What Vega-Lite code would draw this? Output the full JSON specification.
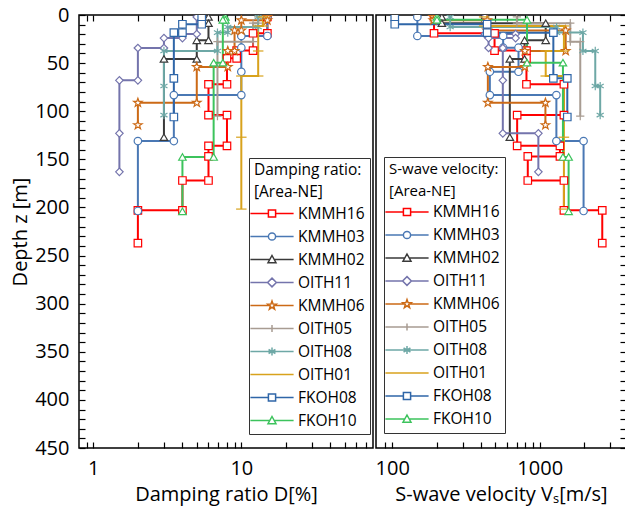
{
  "$schema": "https://vega.github.io/schema/vega-lite/v6.json",
  "background": "white",
  "padding": {"left": 9, "top": 4, "right": 2, "bottom": 2},
  "datasets": {
    "prof": [
      {"p":"D","s":"KMMH16","i":0,"v":15,"z":2},{"p":"D","s":"KMMH16","i":1,"v":15,"z":19},{"p":"D","s":"KMMH16","i":2,"v":12,"z":19},{"p":"D","s":"KMMH16","i":3,"v":12,"z":37},{"p":"D","s":"KMMH16","i":4,"v":9.3,"z":37},{"p":"D","s":"KMMH16","i":5,"v":9.3,"z":45},{"p":"D","s":"KMMH16","i":6,"v":8,"z":45},{"p":"D","s":"KMMH16","i":7,"v":8,"z":72},{"p":"D","s":"KMMH16","i":8,"v":6,"z":72},{"p":"D","s":"KMMH16","i":9,"v":6,"z":104},{"p":"D","s":"KMMH16","i":10,"v":8,"z":104},{"p":"D","s":"KMMH16","i":11,"v":8,"z":136},{"p":"D","s":"KMMH16","i":12,"v":6,"z":136},{"p":"D","s":"KMMH16","i":13,"v":6,"z":147},{"p":"D","s":"KMMH16","i":14,"v":6,"z":172},{"p":"D","s":"KMMH16","i":15,"v":4,"z":172},{"p":"D","s":"KMMH16","i":16,"v":4,"z":203},{"p":"D","s":"KMMH16","i":17,"v":2,"z":203},{"p":"D","s":"KMMH16","i":18,"v":2,"z":237},
      {"p":"D","s":"KMMH03","i":0,"v":15,"z":2},{"p":"D","s":"KMMH03","i":1,"v":15,"z":21.8},{"p":"D","s":"KMMH03","i":2,"v":10,"z":21.8},{"p":"D","s":"KMMH03","i":3,"v":10,"z":34},{"p":"D","s":"KMMH03","i":4,"v":10,"z":59},{"p":"D","s":"KMMH03","i":5,"v":10,"z":83.2},{"p":"D","s":"KMMH03","i":6,"v":3.5,"z":83.2},{"p":"D","s":"KMMH03","i":7,"v":3.5,"z":131},{"p":"D","s":"KMMH03","i":8,"v":2,"z":131},{"p":"D","s":"KMMH03","i":9,"v":2,"z":203.7},
      {"p":"D","s":"KMMH02","i":0,"v":6,"z":2},{"p":"D","s":"KMMH02","i":1,"v":6,"z":8.5},{"p":"D","s":"KMMH02","i":2,"v":6,"z":26.3},{"p":"D","s":"KMMH02","i":3,"v":5,"z":26.3},{"p":"D","s":"KMMH02","i":4,"v":5,"z":45.7},{"p":"D","s":"KMMH02","i":5,"v":3,"z":45.7},{"p":"D","s":"KMMH02","i":6,"v":3,"z":127},
      {"p":"D","s":"OITH11","i":0,"v":5,"z":2},{"p":"D","s":"OITH11","i":1,"v":5,"z":19.8},{"p":"D","s":"OITH11","i":2,"v":4,"z":19.8},{"p":"D","s":"OITH11","i":3,"v":4,"z":24},{"p":"D","s":"OITH11","i":4,"v":3,"z":24},{"p":"D","s":"OITH11","i":5,"v":3,"z":34.3},{"p":"D","s":"OITH11","i":6,"v":2,"z":34.3},{"p":"D","s":"OITH11","i":7,"v":2,"z":67.9},{"p":"D","s":"OITH11","i":8,"v":1.5,"z":67.9},{"p":"D","s":"OITH11","i":9,"v":1.5,"z":123},{"p":"D","s":"OITH11","i":10,"v":1.5,"z":163},
      {"p":"D","s":"KMMH06","i":0,"v":15,"z":2},{"p":"D","s":"KMMH06","i":1,"v":15,"z":5.5},{"p":"D","s":"KMMH06","i":2,"v":10,"z":5.5},{"p":"D","s":"KMMH06","i":3,"v":10,"z":16},{"p":"D","s":"KMMH06","i":4,"v":9,"z":16},{"p":"D","s":"KMMH06","i":5,"v":9,"z":37.4},{"p":"D","s":"KMMH06","i":6,"v":8.1,"z":37.4},{"p":"D","s":"KMMH06","i":7,"v":8.1,"z":54},{"p":"D","s":"KMMH06","i":8,"v":5,"z":54},{"p":"D","s":"KMMH06","i":9,"v":5,"z":91.2},{"p":"D","s":"KMMH06","i":10,"v":2,"z":91.2},{"p":"D","s":"KMMH06","i":11,"v":2,"z":114.4},
      {"p":"D","s":"OITH05","i":0,"v":13,"z":2},{"p":"D","s":"OITH05","i":1,"v":13,"z":8.5},{"p":"D","s":"OITH05","i":2,"v":12,"z":8.5},{"p":"D","s":"OITH05","i":3,"v":12,"z":27.7},{"p":"D","s":"OITH05","i":4,"v":6.9,"z":27.7},{"p":"D","s":"OITH05","i":5,"v":6.9,"z":105},
      {"p":"D","s":"OITH08","i":0,"v":13,"z":2},{"p":"D","s":"OITH08","i":1,"v":13,"z":12.5},{"p":"D","s":"OITH08","i":2,"v":8.1,"z":12.5},{"p":"D","s":"OITH08","i":3,"v":8.1,"z":18.3},{"p":"D","s":"OITH08","i":4,"v":6.9,"z":18.3},{"p":"D","s":"OITH08","i":5,"v":6.9,"z":37.4},{"p":"D","s":"OITH08","i":6,"v":3,"z":37.4},{"p":"D","s":"OITH08","i":7,"v":3,"z":73.8},{"p":"D","s":"OITH08","i":8,"v":3,"z":104},
      {"p":"D","s":"OITH01","i":0,"v":14,"z":2},{"p":"D","s":"OITH01","i":1,"v":14,"z":11.4},{"p":"D","s":"OITH01","i":2,"v":13,"z":11.4},{"p":"D","s":"OITH01","i":3,"v":13,"z":37.4},{"p":"D","s":"OITH01","i":4,"v":13,"z":63.4},{"p":"D","s":"OITH01","i":5,"v":10,"z":63.4},{"p":"D","s":"OITH01","i":6,"v":10,"z":127},{"p":"D","s":"OITH01","i":7,"v":10,"z":201.7},
      {"p":"D","s":"FKOH08","i":0,"v":5.4,"z":2},{"p":"D","s":"FKOH08","i":1,"v":5.4,"z":9.6},{"p":"D","s":"FKOH08","i":2,"v":4,"z":9.6},{"p":"D","s":"FKOH08","i":3,"v":4,"z":18.4},{"p":"D","s":"FKOH08","i":4,"v":3.5,"z":18.4},{"p":"D","s":"FKOH08","i":5,"v":3.5,"z":65.8},{"p":"D","s":"FKOH08","i":6,"v":3.5,"z":106},
      {"p":"D","s":"FKOH10","i":0,"v":7.8,"z":2},{"p":"D","s":"FKOH10","i":1,"v":7.8,"z":5},{"p":"D","s":"FKOH10","i":2,"v":7.5,"z":5},{"p":"D","s":"FKOH10","i":3,"v":7.5,"z":49.6},{"p":"D","s":"FKOH10","i":4,"v":6.5,"z":49.6},{"p":"D","s":"FKOH10","i":5,"v":6.5,"z":147.6},{"p":"D","s":"FKOH10","i":6,"v":4,"z":147.6},{"p":"D","s":"FKOH10","i":7,"v":4,"z":204},
      {"p":"V","s":"KMMH16","i":0,"v":192,"z":2},{"p":"V","s":"KMMH16","i":1,"v":192,"z":19},{"p":"V","s":"KMMH16","i":2,"v":494,"z":19},{"p":"V","s":"KMMH16","i":3,"v":494,"z":37},{"p":"V","s":"KMMH16","i":4,"v":813,"z":37},{"p":"V","s":"KMMH16","i":5,"v":813,"z":45},{"p":"V","s":"KMMH16","i":6,"v":813,"z":72},{"p":"V","s":"KMMH16","i":7,"v":1459,"z":72},{"p":"V","s":"KMMH16","i":8,"v":1459,"z":104},{"p":"V","s":"KMMH16","i":9,"v":703,"z":104},{"p":"V","s":"KMMH16","i":10,"v":703,"z":136},{"p":"V","s":"KMMH16","i":11,"v":1371,"z":136},{"p":"V","s":"KMMH16","i":12,"v":1371,"z":147},{"p":"V","s":"KMMH16","i":13,"v":830,"z":147},{"p":"V","s":"KMMH16","i":14,"v":830,"z":172},{"p":"V","s":"KMMH16","i":15,"v":1459,"z":172},{"p":"V","s":"KMMH16","i":16,"v":1459,"z":203},{"p":"V","s":"KMMH16","i":17,"v":2655,"z":203},{"p":"V","s":"KMMH16","i":18,"v":2655,"z":237},
      {"p":"V","s":"KMMH03","i":0,"v":148,"z":2},{"p":"V","s":"KMMH03","i":1,"v":148,"z":21.8},{"p":"V","s":"KMMH03","i":2,"v":565,"z":21.8},{"p":"V","s":"KMMH03","i":3,"v":565,"z":34},{"p":"V","s":"KMMH03","i":4,"v":718,"z":34},{"p":"V","s":"KMMH03","i":5,"v":718,"z":59},{"p":"V","s":"KMMH03","i":6,"v":459,"z":59},{"p":"V","s":"KMMH03","i":7,"v":459,"z":83.2},{"p":"V","s":"KMMH03","i":8,"v":1297,"z":83.2},{"p":"V","s":"KMMH03","i":9,"v":1297,"z":131},{"p":"V","s":"KMMH03","i":10,"v":1983,"z":131},{"p":"V","s":"KMMH03","i":11,"v":1983,"z":203.7},
      {"p":"V","s":"KMMH02","i":0,"v":217,"z":2},{"p":"V","s":"KMMH02","i":1,"v":217,"z":8.5},{"p":"V","s":"KMMH02","i":2,"v":1098,"z":8.5},{"p":"V","s":"KMMH02","i":3,"v":1098,"z":26.3},{"p":"V","s":"KMMH02","i":4,"v":789,"z":26.3},{"p":"V","s":"KMMH02","i":5,"v":789,"z":45.7},{"p":"V","s":"KMMH02","i":6,"v":627,"z":45.7},{"p":"V","s":"KMMH02","i":7,"v":627,"z":127},
      {"p":"V","s":"OITH11","i":0,"v":425,"z":2},{"p":"V","s":"OITH11","i":1,"v":425,"z":19.8},{"p":"V","s":"OITH11","i":2,"v":686,"z":19.8},{"p":"V","s":"OITH11","i":3,"v":686,"z":24},{"p":"V","s":"OITH11","i":4,"v":450,"z":24},{"p":"V","s":"OITH11","i":5,"v":450,"z":34.3},{"p":"V","s":"OITH11","i":6,"v":562,"z":34.3},{"p":"V","s":"OITH11","i":7,"v":562,"z":67.9},{"p":"V","s":"OITH11","i":8,"v":562,"z":123},{"p":"V","s":"OITH11","i":9,"v":979,"z":123},{"p":"V","s":"OITH11","i":10,"v":979,"z":163},
      {"p":"V","s":"KMMH06","i":0,"v":190,"z":2},{"p":"V","s":"KMMH06","i":1,"v":190,"z":5.5},{"p":"V","s":"KMMH06","i":2,"v":440,"z":5.5},{"p":"V","s":"KMMH06","i":3,"v":440,"z":16},{"p":"V","s":"KMMH06","i":4,"v":1500,"z":16},{"p":"V","s":"KMMH06","i":5,"v":1500,"z":37.4},{"p":"V","s":"KMMH06","i":6,"v":793,"z":37.4},{"p":"V","s":"KMMH06","i":7,"v":793,"z":54},{"p":"V","s":"KMMH06","i":8,"v":445,"z":54},{"p":"V","s":"KMMH06","i":9,"v":445,"z":91.2},{"p":"V","s":"KMMH06","i":10,"v":1093,"z":91.2},{"p":"V","s":"KMMH06","i":11,"v":1093,"z":114.4},
      {"p":"V","s":"OITH05","i":0,"v":700,"z":2},{"p":"V","s":"OITH05","i":1,"v":700,"z":8.5},{"p":"V","s":"OITH05","i":2,"v":1612,"z":8.5},{"p":"V","s":"OITH05","i":3,"v":1612,"z":27.7},{"p":"V","s":"OITH05","i":4,"v":1883,"z":27.7},{"p":"V","s":"OITH05","i":5,"v":1883,"z":105},
      {"p":"V","s":"OITH08","i":0,"v":247,"z":2},{"p":"V","s":"OITH08","i":1,"v":247,"z":12.5},{"p":"V","s":"OITH08","i":2,"v":1302,"z":12.5},{"p":"V","s":"OITH08","i":3,"v":1302,"z":18.3},{"p":"V","s":"OITH08","i":4,"v":1963,"z":18.3},{"p":"V","s":"OITH08","i":5,"v":1963,"z":37.4},{"p":"V","s":"OITH08","i":6,"v":2380,"z":37.4},{"p":"V","s":"OITH08","i":7,"v":2380,"z":73.8},{"p":"V","s":"OITH08","i":8,"v":2570,"z":73.8},{"p":"V","s":"OITH08","i":9,"v":2570,"z":104},
      {"p":"V","s":"OITH01","i":0,"v":420,"z":2},{"p":"V","s":"OITH01","i":1,"v":420,"z":11.4},{"p":"V","s":"OITH01","i":2,"v":1459,"z":11.4},{"p":"V","s":"OITH01","i":3,"v":1459,"z":37.4},{"p":"V","s":"OITH01","i":4,"v":1098,"z":37.4},{"p":"V","s":"OITH01","i":5,"v":1098,"z":63.4},{"p":"V","s":"OITH01","i":6,"v":1459,"z":63.4},{"p":"V","s":"OITH01","i":7,"v":1459,"z":127},{"p":"V","s":"OITH01","i":8,"v":1459,"z":201.7},
      {"p":"V","s":"FKOH08","i":0,"v":104,"z":2},{"p":"V","s":"FKOH08","i":1,"v":104,"z":9.6},{"p":"V","s":"FKOH08","i":2,"v":440,"z":9.6},{"p":"V","s":"FKOH08","i":3,"v":440,"z":18.4},{"p":"V","s":"FKOH08","i":4,"v":1237,"z":18.4},{"p":"V","s":"FKOH08","i":5,"v":1237,"z":65.8},{"p":"V","s":"FKOH08","i":6,"v":1538,"z":65.8},{"p":"V","s":"FKOH08","i":7,"v":1538,"z":106},
      {"p":"V","s":"FKOH10","i":0,"v":201,"z":2},{"p":"V","s":"FKOH10","i":1,"v":201,"z":5},{"p":"V","s":"FKOH10","i":2,"v":820,"z":5},{"p":"V","s":"FKOH10","i":3,"v":820,"z":49.6},{"p":"V","s":"FKOH10","i":4,"v":1437,"z":49.6},{"p":"V","s":"FKOH10","i":5,"v":1437,"z":147.6},{"p":"V","s":"FKOH10","i":6,"v":1570,"z":147.6},{"p":"V","s":"FKOH10","i":7,"v":1570,"z":204}
    ]
  },
  "data": {"name": "prof"},
  "spacing": 0,
  "hconcat": [
    {
      "width": 294,
      "height": 433,
      "transform": [{"filter": "datum.p == 'D'"}],
      "layer": [
        {
          "mark": {"type": "line", "strokeWidth": 2, "clip": true},
          "encoding": {
            "x": {"field": "v", "type": "quantitative", "scale": {"type": "log", "domain": [0.8, 77.6], "nice": false},
              "axis": {"orient": "bottom", "values": [0.9,1,2,3,4,5,6,7,8,9,10,20,30,40,50,60,70], "tickSize": -6, "labelPadding": 16, "labelExpr": "datum.value == 1 ? '1' : datum.value == 10 ? '10' : ''", "title": "Damping ratio D[%]", "titlePadding": 6}},
            "y": {"field": "z", "type": "quantitative", "scale": {"domain": [0, 450], "reverse": true, "nice": false, "zero": false},
              "axis": {"orient": "left", "values": [0,10,20,30,40,50,60,70,80,90,100,110,120,130,140,150,160,170,180,190,200,210,220,230,240,250,260,270,280,290,300,310,320,330,340,350,360,370,380,390,400,410,420,430,440,450], "tickSize": -6, "labelPadding": 16, "labelExpr": "datum.value % 50 == 0 ? datum.label : ''", "title": "Depth  z [m]", "titlePadding": 4}},
            "order": {"field": "i", "type": "quantitative"},
            "detail": {"field": "s", "type": "nominal"},
            "stroke": {"field": "s", "type": "nominal", "legend": null,
              "scale": {"domain": ["KMMH16","KMMH03","KMMH02","OITH11","KMMH06","OITH05","OITH08","OITH01","FKOH08","FKOH10"], "range": ["#ff0000","#4a78b4","#3a3a3a","#7474ac","#cc6a16","#a89c92","#6ea8a6","#d8a21c","#2f66a8","#3cc35c"]}}
          }
        },
        {
          "mark": {"type": "point", "filled": true, "fill": "white", "size": 56, "strokeWidth": 1.2, "opacity": 1, "clip": true},
          "encoding": {
            "x": {"field": "v", "type": "quantitative", "scale": {"type": "log", "domain": [0.8, 77.6], "nice": false}, "axis": null},
            "y": {"field": "z", "type": "quantitative", "scale": {"domain": [0, 450], "reverse": true, "nice": false, "zero": false}, "axis": null},
            "stroke": {"field": "s", "type": "nominal", "legend": null,
              "scale": {"domain": ["KMMH16","KMMH03","KMMH02","OITH11","KMMH06","OITH05","OITH08","OITH01","FKOH08","FKOH10"], "range": ["#ff0000","#4a78b4","#3a3a3a","#7474ac","#cc6a16","#a89c92","#6ea8a6","#d8a21c","#2f66a8","#3cc35c"]}},
            "shape": {"field": "s", "type": "nominal", "legend": null,
              "scale": {"domain": ["KMMH16","KMMH03","KMMH02","OITH11","KMMH06","OITH05","OITH08","OITH01","FKOH08","FKOH10"], "range": ["square","circle","triangle-up","diamond","M0,-1.2L0.282,-0.389L1.141,-0.371L0.456,0.149L0.706,0.971L0,0.48L-0.706,0.971L-0.456,0.149L-1.141,-0.371L-0.282,-0.389Z","M0,-1.1V1.1M-1.1,0H1.1","M0,-1.1V1.1M-0.95,-0.55L0.95,0.55M-0.95,0.55L0.95,-0.55","M-1.4,0H1.4","square","triangle-up"]}}
          }
        },
        {
          "transform": [{"filter": "false"}],
          "mark": {"type": "point", "filled": true, "fill": "white", "size": 256, "strokeWidth": 1.5, "opacity": 1},
          "encoding": {
            "x": {"field": "v", "type": "quantitative", "scale": {"type": "log", "domain": [0.8, 77.6], "nice": false},
              "axis": {"orient": "top", "values": [0.9,1,2,3,4,5,6,7,8,9,10,20,30,40,50,60,70], "tickSize": -6, "labels": false, "title": null}},
            "y": {"field": "z", "type": "quantitative", "scale": {"domain": [0, 450], "reverse": true, "nice": false, "zero": false}, "axis": null},
            "stroke": {"field": "s", "type": "nominal",
              "scale": {"domain": ["KMMH16","KMMH03","KMMH02","OITH11","KMMH06","OITH05","OITH08","OITH01","FKOH08","FKOH10"], "range": ["#ff0000","#4a78b4","#3a3a3a","#7474ac","#cc6a16","#a89c92","#6ea8a6","#d8a21c","#2f66a8","#3cc35c"]},
              "legend": {"orient": "none", "legendX": 170, "legendY": 143, "title": ["Damping ratio:", "[Area-NE]"], "symbolOffset": 9, "labelOffset": 17}},
            "shape": {"field": "s", "type": "nominal",
              "scale": {"domain": ["KMMH16","KMMH03","KMMH02","OITH11","KMMH06","OITH05","OITH08","OITH01","FKOH08","FKOH10"], "range": [
                "M-2.7,0H-0.45M0.45,0H2.7M-0.45,-0.45H0.45V0.45H-0.45Z",
                "M-2.7,0H-0.45M0.45,0H2.7M-0.45,0A0.45,0.45,0,1,0,0.45,0A0.45,0.45,0,1,0,-0.45,0Z",
                "M-2.7,0H-0.28M0.28,0H2.7M0,-0.5L0.5,0.4H-0.5Z",
                "M-2.7,0H-0.55M0.55,0H2.7M0,-0.55L0.55,0L0,0.55L-0.55,0Z",
                "M-2.7,0H-0.3M0.3,0H2.7M0,-0.55L0.129,-0.178L0.523,-0.17L0.209,0.068L0.323,0.445L0,0.22L-0.323,0.445L-0.209,0.068L-0.523,-0.17L-0.129,-0.178Z",
                "M-2.7,0H2.7M0,-0.45V0.45",
                "M-2.7,0H2.7M0,-0.5V0.5M-0.43,-0.25L0.43,0.25M-0.43,0.25L0.43,-0.25",
                "M-2.7,0H2.7",
                "M-2.7,0H-0.45M0.45,0H2.7M-0.45,-0.45H0.45V0.45H-0.45Z",
                "M-2.7,0H-0.28M0.28,0H2.7M0,-0.5L0.5,0.4H-0.5Z"]},
              "legend": {"orient": "none", "legendX": 170, "legendY": 143, "title": ["Damping ratio:", "[Area-NE]"], "symbolOffset": 9, "labelOffset": 17}}
          }
        }
      ],
      "resolve": {"scale": {"shape": "independent", "stroke": "independent"}, "axis": {"x": "independent", "y": "independent"}, "legend": {"shape": "independent", "stroke": "independent"}}
    },
    {
      "width": 250,
      "height": 433,
      "transform": [{"filter": "datum.p == 'V'"}],
      "layer": [
        {
          "mark": {"type": "line", "strokeWidth": 2, "clip": true},
          "encoding": {
            "x": {"field": "v", "type": "quantitative", "scale": {"type": "log", "domain": [77.6, 3846], "nice": false},
              "axis": {"orient": "bottom", "values": [90,100,200,300,400,500,600,700,800,900,1000,2000,3000], "tickSize": -6, "labelPadding": 16, "labelExpr": "datum.value == 100 ? '100' : datum.value == 1000 ? '1000' : ''", "title": "S-wave velocity Vₛ[m/s]", "titlePadding": 6}},
            "y": {"field": "z", "type": "quantitative", "scale": {"domain": [0, 450], "reverse": true, "nice": false, "zero": false},
              "axis": {"orient": "right", "values": [0,10,20,30,40,50,60,70,80,90,100,110,120,130,140,150,160,170,180,190,200,210,220,230,240,250,260,270,280,290,300,310,320,330,340,350,360,370,380,390,400,410,420,430,440,450], "tickSize": -6, "labels": false, "title": null}},
            "order": {"field": "i", "type": "quantitative"},
            "detail": {"field": "s", "type": "nominal"},
            "stroke": {"field": "s", "type": "nominal", "legend": null,
              "scale": {"domain": ["KMMH16","KMMH03","KMMH02","OITH11","KMMH06","OITH05","OITH08","OITH01","FKOH08","FKOH10"], "range": ["#ff0000","#4a78b4","#3a3a3a","#7474ac","#cc6a16","#a89c92","#6ea8a6","#d8a21c","#2f66a8","#3cc35c"]}}
          }
        },
        {
          "mark": {"type": "point", "filled": true, "fill": "white", "size": 56, "strokeWidth": 1.2, "opacity": 1, "clip": true},
          "encoding": {
            "x": {"field": "v", "type": "quantitative", "scale": {"type": "log", "domain": [77.6, 3846], "nice": false}, "axis": null},
            "y": {"field": "z", "type": "quantitative", "scale": {"domain": [0, 450], "reverse": true, "nice": false, "zero": false}, "axis": null},
            "stroke": {"field": "s", "type": "nominal", "legend": null,
              "scale": {"domain": ["KMMH16","KMMH03","KMMH02","OITH11","KMMH06","OITH05","OITH08","OITH01","FKOH08","FKOH10"], "range": ["#ff0000","#4a78b4","#3a3a3a","#7474ac","#cc6a16","#a89c92","#6ea8a6","#d8a21c","#2f66a8","#3cc35c"]}},
            "shape": {"field": "s", "type": "nominal", "legend": null,
              "scale": {"domain": ["KMMH16","KMMH03","KMMH02","OITH11","KMMH06","OITH05","OITH08","OITH01","FKOH08","FKOH10"], "range": ["square","circle","triangle-up","diamond","M0,-1.2L0.282,-0.389L1.141,-0.371L0.456,0.149L0.706,0.971L0,0.48L-0.706,0.971L-0.456,0.149L-1.141,-0.371L-0.282,-0.389Z","M0,-1.1V1.1M-1.1,0H1.1","M0,-1.1V1.1M-0.95,-0.55L0.95,0.55M-0.95,0.55L0.95,-0.55","M-1.4,0H1.4","square","triangle-up"]}}
          }
        },
        {
          "transform": [{"filter": "false"}],
          "mark": {"type": "point", "filled": true, "fill": "white", "size": 256, "strokeWidth": 1.5, "opacity": 1},
          "encoding": {
            "x": {"field": "v", "type": "quantitative", "scale": {"type": "log", "domain": [77.6, 3846], "nice": false},
              "axis": {"orient": "top", "values": [90,100,200,300,400,500,600,700,800,900,1000,2000,3000], "tickSize": -6, "labels": false, "title": null}},
            "y": {"field": "z", "type": "quantitative", "scale": {"domain": [0, 450], "reverse": true, "nice": false, "zero": false}, "axis": null},
            "stroke": {"field": "s", "type": "nominal",
              "scale": {"domain": ["KMMH16","KMMH03","KMMH02","OITH11","KMMH06","OITH05","OITH08","OITH01","FKOH08","FKOH10"], "range": ["#ff0000","#4a78b4","#3a3a3a","#7474ac","#cc6a16","#a89c92","#6ea8a6","#d8a21c","#2f66a8","#3cc35c"]},
              "legend": {"orient": "none", "legendX": 8, "legendY": 142, "title": ["S-wave velocity:", "[Area-NE]"], "titleFontSize": 15, "symbolOffset": 9, "labelOffset": 17}},
            "shape": {"field": "s", "type": "nominal",
              "scale": {"domain": ["KMMH16","KMMH03","KMMH02","OITH11","KMMH06","OITH05","OITH08","OITH01","FKOH08","FKOH10"], "range": [
                "M-2.7,0H-0.45M0.45,0H2.7M-0.45,-0.45H0.45V0.45H-0.45Z",
                "M-2.7,0H-0.45M0.45,0H2.7M-0.45,0A0.45,0.45,0,1,0,0.45,0A0.45,0.45,0,1,0,-0.45,0Z",
                "M-2.7,0H-0.28M0.28,0H2.7M0,-0.5L0.5,0.4H-0.5Z",
                "M-2.7,0H-0.55M0.55,0H2.7M0,-0.55L0.55,0L0,0.55L-0.55,0Z",
                "M-2.7,0H-0.3M0.3,0H2.7M0,-0.55L0.129,-0.178L0.523,-0.17L0.209,0.068L0.323,0.445L0,0.22L-0.323,0.445L-0.209,0.068L-0.523,-0.17L-0.129,-0.178Z",
                "M-2.7,0H2.7M0,-0.45V0.45",
                "M-2.7,0H2.7M0,-0.5V0.5M-0.43,-0.25L0.43,0.25M-0.43,0.25L0.43,-0.25",
                "M-2.7,0H2.7",
                "M-2.7,0H-0.45M0.45,0H2.7M-0.45,-0.45H0.45V0.45H-0.45Z",
                "M-2.7,0H-0.28M0.28,0H2.7M0,-0.5L0.5,0.4H-0.5Z"]},
              "legend": {"orient": "none", "legendX": 8, "legendY": 142, "title": ["S-wave velocity:", "[Area-NE]"], "titleFontSize": 15, "symbolOffset": 9, "labelOffset": 17}}
          }
        }
      ],
      "resolve": {"scale": {"shape": "independent", "stroke": "independent"}, "axis": {"x": "independent", "y": "independent"}, "legend": {"shape": "independent", "stroke": "independent"}}
    }
  ],
  "resolve": {"scale": {"shape": "independent", "stroke": "independent"}, "legend": {"shape": "independent", "stroke": "independent"}},
  "config": {
    "font": "Open Sans",
    "view": {"stroke": "black", "strokeWidth": 1.5},
    "axis": {"domain": false, "grid": false, "tickColor": "black", "tickWidth": 1.2, "labelColor": "black", "titleColor": "black", "labelFontSize": 20, "titleFontSize": 20, "titleFontWeight": "normal", "labelOverlap": false, "labelFlush": false, "labelBound": false},
    "legend": {"titleFontSize": 15.5, "titleFontWeight": "normal", "titleColor": "black", "titleLineHeight": 22, "titlePadding": 4, "labelFontSize": 15.5, "labelColor": "black", "symbolSize": 256, "symbolStrokeWidth": 1.5, "rowPadding": 5, "padding": 5, "fillColor": "white", "strokeColor": "#333333", "labelLimit": 300, "titleLimit": 300}
  }
}
